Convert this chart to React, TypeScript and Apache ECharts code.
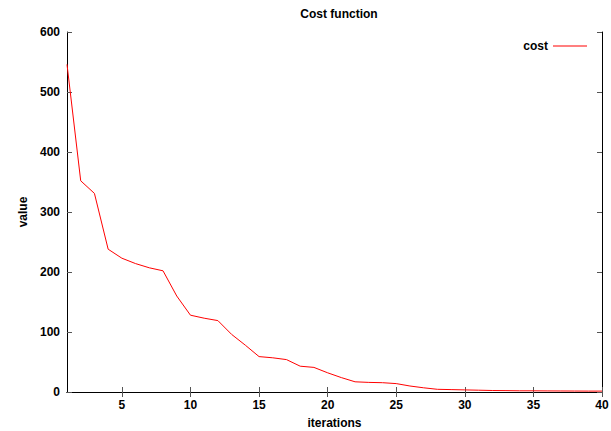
import React, { useEffect, useRef } from "react";
import * as echarts from "echarts";

const iterations: number[] = Array.from({ length: 40 }, (_, i) => i + 1);
const costValues: number[] = [
  546, 352, 331, 238, 223, 214, 207, 202, 160, 128,
  123, 119, 96, 78, 59, 57, 54, 43, 41, 32,
  24, 17, 16, 15.5, 14, 10, 7, 4.5, 4, 3.5,
  3, 2.5, 2.3, 2, 2, 1.8, 1.7, 1.6, 1.5, 1.5,
];
const xTicks: number[] = [5, 10, 15, 20, 25, 30, 35, 40];
const yTicks: number[] = [0, 100, 200, 300, 400, 500, 600];

const FONT = "'Liberation Sans', Arial, Helvetica, sans-serif";

export default function App() {
  const ref = useRef<HTMLDivElement>(null);
  useEffect(() => {
    if (!ref.current) return;
    const chart = echarts.init(ref.current, undefined, { renderer: "svg" });
    const labelStyle = { color: "#000", fontFamily: FONT, fontSize: 12, fontWeight: "bold" as const };
    const axisLine = { show: true, lineStyle: { color: "#000", width: 1 } };
    const tick = { show: true, inside: true, length: 5, lineStyle: { color: "#555", width: 1 } };
    chart.setOption({
      animation: false,
      backgroundColor: "#fff",
      title: {
        text: "Cost function",
        left: 334,
        textAlign: "center",
        top: 3,
        textStyle: { ...labelStyle, fontSize: 12 },
      },
      legend: {
        right: 19,
        top: 35,
        align: "right",
        itemWidth: 34,
        itemHeight: 1,
        textStyle: { ...labelStyle },
        data: [{ name: "cost", icon: "rect" }],
      },
      grid: { left: 67, right: 9, top: 32, bottom: 39, containLabel: false, outerBoundsMode: "none" },
      xAxis: [
        {
          type: "value",
          min: 1,
          max: 40,
          name: "iterations",
          nameLocation: "middle",
          nameGap: 25,
          nameTextStyle: labelStyle,
          axisLine,
          axisTick: { ...tick, customValues: xTicks },
          axisLabel: { ...labelStyle, margin: 7, customValues: xTicks },
          splitLine: { show: false },
        },
        {
          type: "value",
          min: 1,
          max: 40,
          position: "top",
          axisLine,
          axisTick: { ...tick, customValues: xTicks },
          axisLabel: { show: false, customValues: xTicks },
          splitLine: { show: false },
        },
      ],
      yAxis: [
        {
          type: "value",
          min: 0,
          max: 600,
          interval: 100,
          name: "value",
          nameLocation: "middle",
          nameGap: 38,
          nameRotate: 90,
          nameTextStyle: labelStyle,
          axisLine,
          axisTick: { ...tick, customValues: yTicks },
          axisLabel: { ...labelStyle, margin: 7 },
          splitLine: { show: false },
        },
        {
          type: "value",
          min: 0,
          max: 600,
          interval: 100,
          position: "right",
          axisLine,
          axisTick: tick,
          axisLabel: { show: false },
          splitLine: { show: false },
        },
      ],
      series: [
        {
          name: "cost",
          type: "line",
          xAxisIndex: 0,
          yAxisIndex: 0,
          showSymbol: false,
          symbol: "none",
          data: iterations.map((it, i) => [it, costValues[i]]),
          lineStyle: { color: "#ff0000", width: 1 },
          itemStyle: { color: "#ff0000" },
        },
      ],
    });
    return () => chart.dispose();
  }, []);
  return <div ref={ref} style={{ width: 611, height: 431, position: "absolute", left: 0, top: 0 }} />;
}
